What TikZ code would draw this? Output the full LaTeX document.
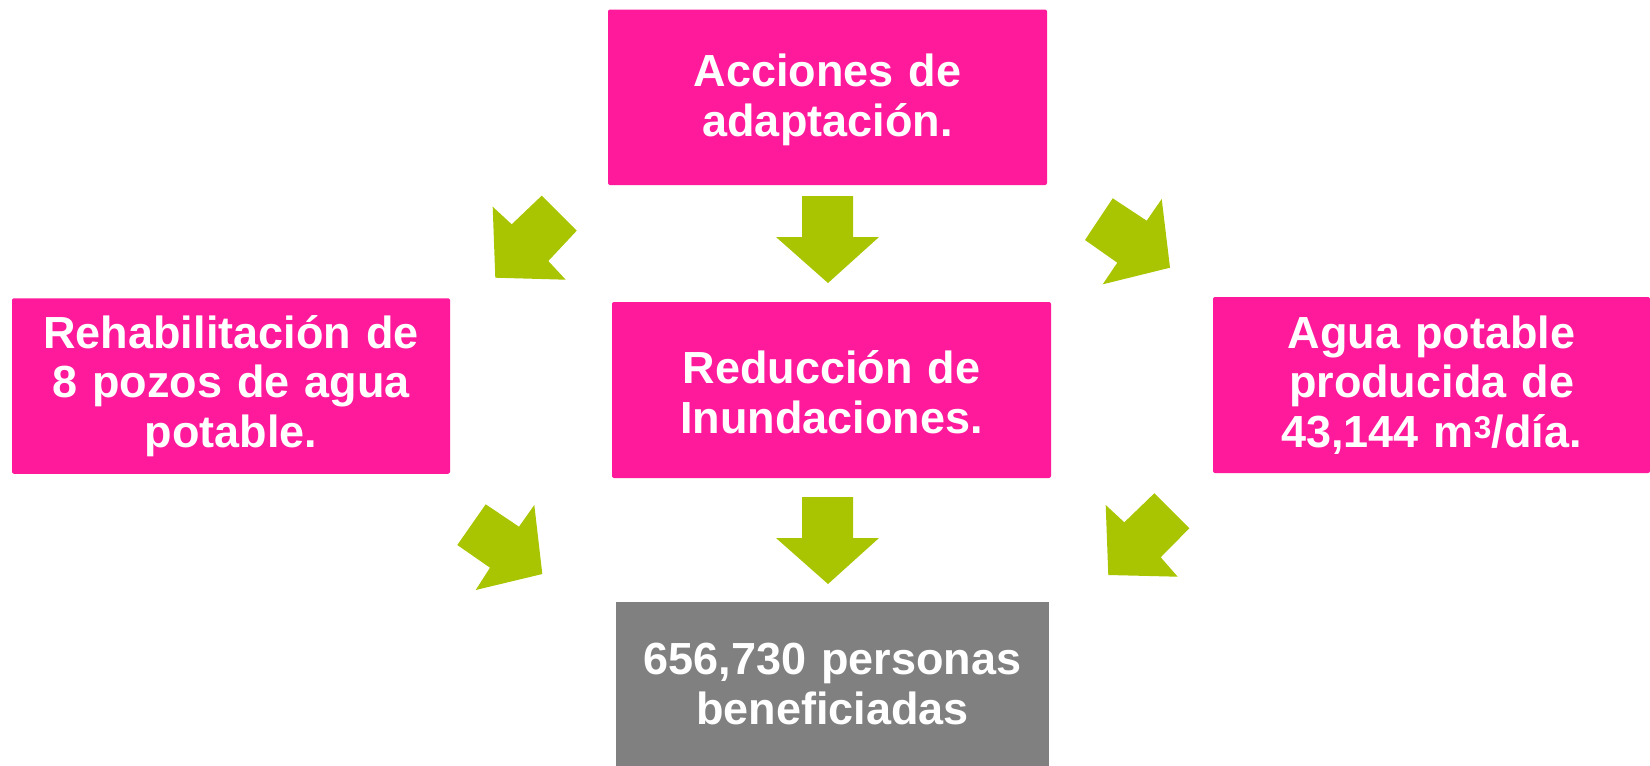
\documentclass[tikz,border=0pt]{standalone}
\usepackage{fontspec}
\setmainfont{Liberation Sans}
\definecolor{pinkbox}{HTML}{FF199B}
\definecolor{greenarr}{HTML}{A9C400}
\definecolor{graybox}{HTML}{808080}
\begin{document}
\begin{tikzpicture}[x=1pt,y=-1pt,
  box/.style={fill=pinkbox, rounded corners=2pt, inner sep=0pt, text=white,
    font=\fontsize{45}{49.5}\selectfont\bfseries, align=center, anchor=center},
  graybx/.style={box, fill=graybox, rounded corners=0pt},
  blockarrow/.style={fill=greenarr, draw=none}]
\useasboundingbox (0,0) rectangle (1650,766);
\node[box, minimum width=439pt, minimum height=175.5pt, text width=430pt] (top) at (827.5,97.25) {};
\node[box, fill=none, text width=430pt] (toptext) at (827.5,100) {Acciones de\\adaptación.};
\node[box, minimum width=439pt, minimum height=176pt, text width=430pt] (mid) at (831.5,390) {};
\node[box, fill=none, text width=430pt] (midtext) at (831.5,392) {Reducción de\\Inundaciones.};
\node[box, minimum width=438pt, minimum height=175.5pt, text width=430pt] (left) at (231,386) {Rehabilitación de\\8 pozos de agua\\potable.};
\node[box, minimum width=437pt, minimum height=176pt, text width=430pt] (right) at (1431.5,385) {Agua potable\\producida de\\43,144 m\textsuperscript{3}/día.};
\node[graybx, minimum width=433pt, minimum height=164pt, text width=430pt] (bot) at (832.5,684) {656,730 personas\\beneficiadas};
% down arrows
\fill[blockarrow] (802,196) -- (853,196) -- (853,237) -- (879,237) -- (828,283) -- (776,237) -- (802,237) -- cycle;
\fill[blockarrow] (802,497) -- (853,497) -- (853,538) -- (879,538) -- (828,584) -- (776,538) -- (802,538) -- cycle;
% upper-left (down-left)
\fill[blockarrow] (492.7,206.7) -- (511.7,224.3) -- (541.7,195.7) -- (576.7,230.7) -- (548.3,261) -- (565.7,279.7) -- (495.3,277.7) -- cycle;
% upper-right (down-right)
\fill[blockarrow] (1085,240) -- (1112.7,198.3) -- (1146.7,220.7) -- (1161.7,199) -- (1170,267.7) -- (1102.7,284.3) -- (1117.3,262.7) -- cycle;
% lower-left (down-right)
\fill[blockarrow] (457.3,545) -- (485.7,504.3) -- (519,526.7) -- (534.3,505) -- (542.3,574) -- (475.7,590) -- (490,567.7) -- cycle;
% lower-right (down-left)
\fill[blockarrow] (1105.7,505) -- (1124.3,522.3) -- (1154.3,493.3) -- (1189.3,528.3) -- (1160.7,557.3) -- (1177.7,576.7) -- (1108.3,575) -- cycle;
\end{tikzpicture}
\end{document}
